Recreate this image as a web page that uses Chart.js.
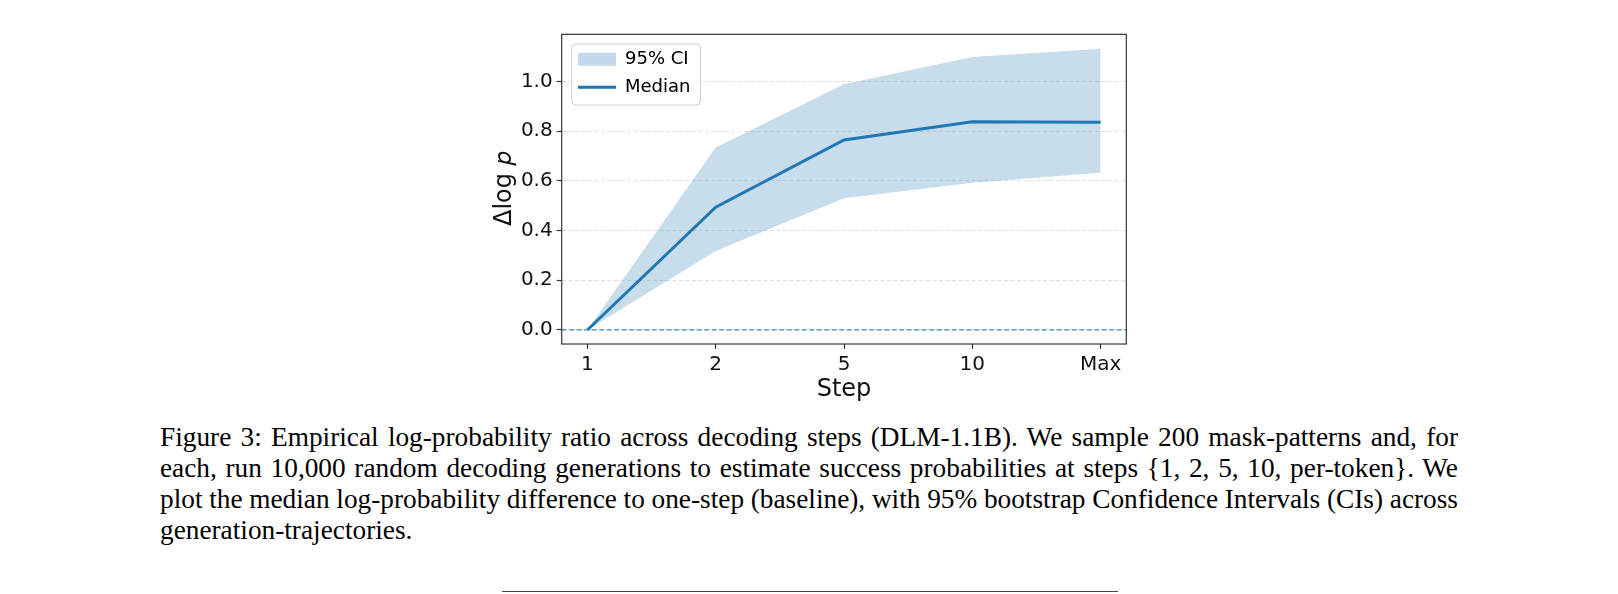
<!DOCTYPE html>
<html>
<head>
<meta charset="utf-8">
<script src="https://cdn.jsdelivr.net/npm/chart.js@4.4.1/dist/chart.umd.min.js"></script>
<style>
html, body { margin: 0; padding: 0; background: #fff; }
body { width: 1618px; height: 594px; position: relative; overflow: hidden; }
#wrap { position: absolute; left: 460px; top: 0; width: 700px; height: 410px; }
#caption { position: absolute; left: 160px; top: 422px; width: 1298px; font-family: 'Liberation Serif', 'Times New Roman', serif; font-size: 27.3px; line-height: 31px; color: #000; }
#caption .j { text-align: justify; text-align-last: justify; word-spacing: -4px; }
#rule { position: absolute; left: 502px; top: 591px; width: 616px; height: 1.4px; background: #444; }
</style>
</head>
<body>
<div id="wrap"><canvas id="graphe" width="700" height="410"></canvas></div>
<div id="caption">
  <div class="j">Figure 3: Empirical log-probability ratio across decoding steps (DLM-1.1B). We sample 200 mask-patterns and, for</div>
  <div class="j">each, run 10,000 random decoding generations to estimate success probabilities at steps {1, 2, 5, 10, per-token}. We</div>
  <div class="j">plot the median log-probability difference to one-step (baseline), with 95% bootstrap Confidence Intervals (CIs) across</div>
  <div>generation-trajectories.</div>
</div>
<div id="rule"></div>
<script>
// donnees
var stepLabels = ['1', '2', '5', '10', 'Max'];
var medianVals = [0, 0.494, 0.765, 0.838, 0.836];
var ciUpper = [0, 0.734, 0.989, 1.099, 1.132];
var ciLower = [0, 0.318, 0.530, 0.593, 0.633];
var yTicks = [0, 0.2, 0.4, 0.6, 0.8, 1.0];

var xMin = -0.2, xMax = 4.2;
var yMin = -0.0565, yMax = 1.19;

var blue = '#1f77b4';
var band = 'rgba(31, 119, 180, 0.25)';

function toPoints(arr) {
    return arr.map(function (v, i) { return { x: i, y: v }; });
}

Chart.defaults.font.family = "'DejaVu Sans', sans-serif";
Chart.defaults.color = '#111';

// cadre complet autour de la zone de trace
var framePlugin = {
    id: 'frame',
    afterDatasetsDraw: function (chart) {
        var a = chart.chartArea, ctx = chart.ctx;
        ctx.save();
        ctx.strokeStyle = '#333';
        ctx.lineWidth = 1.2;
        ctx.strokeRect(a.left, a.top, a.right - a.left, a.bottom - a.top);
        ctx.restore();
    }
};

// legende style matplotlib : decalage + boite arrondie
var legendBoxPlugin = {
    id: 'legendBox',
    afterLayout: function (chart) {
        var lg = chart.legend, a = chart.chartArea;
        lg.left = a.left + 6.3;
        lg.top = a.top + 6;
        lg.right = lg.left + lg.width;
        lg.bottom = lg.top + lg.height;
    },
    afterDraw: function (chart) {
        var lg = chart.legend, ctx = chart.ctx;
        var opts = lg.options.labels;
        var fs = opts.font.size;
        var x0 = lg.left + opts.padding;
        var y0 = lg.top + opts.padding;
        ctx.save();
        ctx.font = fs + "px 'DejaVu Sans'";
        var w = 0;
        lg.legendItems.forEach(function (it) { w = Math.max(w, ctx.measureText(it.text).width); });
        var left = x0 - 6.3;
        var top = y0 - 6.3;
        var right = x0 + opts.pointStyleWidth + fs / 2 + w + 10;
        var bottom = y0 + (fs + opts.padding) * (lg.legendItems.length - 1) + fs + 8.7;
        ctx.beginPath();
        ctx.roundRect(left, top, right - left, bottom - top, 4);
        ctx.fillStyle = 'rgba(255,255,255,0.85)';
        ctx.fill();
        ctx.strokeStyle = '#d0d0d0';
        ctx.lineWidth = 1;
        ctx.stroke();
        ctx.restore();
        lg.draw();
    }
};

var O_ctx = document.getElementById('graphe').getContext('2d');

var O_graphe = new Chart(O_ctx, {
    type: 'line',
    data: {
        datasets: [
            {
                label: '95% CI',
                data: toPoints(ciUpper),
                borderWidth: 0,
                pointRadius: 0,
                backgroundColor: band,
                fill: false,
                order: 3
            },
            {
                label: 'ci lower',
                data: toPoints(ciLower),
                borderWidth: 0,
                pointRadius: 0,
                backgroundColor: band,
                fill: '-1',
                order: 4
            },
            {
                label: 'Median',
                data: toPoints(medianVals),
                borderColor: blue,
                borderWidth: 3,
                pointRadius: 0,
                fill: false,
                order: 1
            },
            {
                label: 'zero',
                data: [{ x: xMin, y: 0 }, { x: xMax, y: 0 }],
                borderColor: 'rgba(31, 119, 180, 0.85)',
                borderWidth: 1.3,
                borderDash: [5, 2.5],
                pointRadius: 0,
                fill: false,
                order: 2
            }
        ]
    },
    options: {
        responsive: false,
        animation: false,
        devicePixelRatio: 1,
        layout: { padding: { left: 0, right: 33.7, top: 34.3, bottom: 0 } },
        plugins: {
            tooltip: { enabled: false },
            legend: {
                position: 'chartArea',
                align: 'start',
                labels: {
                    usePointStyle: true,
                    pointStyleWidth: 38,
                    boxHeight: 13,
                    padding: 10,
                    color: '#111',
                    font: { size: 18 },
                    generateLabels: function () {
                        return [
                            { text: '95% CI', fillStyle: band, strokeStyle: band, lineWidth: 0, pointStyle: 'rect', hidden: false, datasetIndex: 0 },
                            { text: 'Median', fillStyle: blue, strokeStyle: blue, lineWidth: 3, pointStyle: 'line', hidden: false, datasetIndex: 2 }
                        ];
                    }
                }
            }
        },
        scales: {
            x: {
                type: 'linear',
                min: xMin,
                max: xMax,
                afterBuildTicks: function (scale) {
                    scale.ticks = stepLabels.map(function (s, i) { return { value: i }; });
                },
                afterFit: function (scale) { scale.height = 66; },
                ticks: {
                    autoSkip: false,
                    maxRotation: 0,
                    padding: 4,
                    color: '#111',
                    font: { size: 20 },
                    callback: function (v) { return stepLabels[v]; }
                },
                grid: {
                    drawOnChartArea: false,
                    drawTicks: true,
                    tickLength: 5,
                    tickColor: '#333',
                    tickWidth: 1.2
                },
                border: { display: false },
                title: {
                    display: true,
                    text: 'Step',
                    color: '#111',
                    font: { size: 24 },
                    padding: { top: 0, bottom: 5.5 }
                }
            },
            y: {
                type: 'linear',
                min: yMin,
                max: yMax,
                afterBuildTicks: function (scale) {
                    scale.ticks = yTicks.map(function (v) { return { value: v }; });
                },
                afterFit: function (scale) { scale.width = 101.7; },
                ticks: {
                    padding: 4,
                    color: '#111',
                    font: { size: 20 },
                    callback: function (v) { return v.toFixed(1); }
                },
                grid: {
                    color: 'rgba(0, 0, 0, 0.12)',
                    lineWidth: 1,
                    drawTicks: true,
                    tickLength: 5,
                    tickColor: '#333',
                    tickWidth: 1.2,
                    tickBorderDash: []
                },
                border: { display: false, dash: [4, 2.5] },
                title: {
                    display: true,
                    text: 'Δlog 𝑝',
                    color: '#111',
                    font: { size: 24 },
                    padding: { top: 30, bottom: 0 }
                }
            }
        }
    },
    plugins: [framePlugin, legendBoxPlugin]
});
</script>
</body>
</html>
